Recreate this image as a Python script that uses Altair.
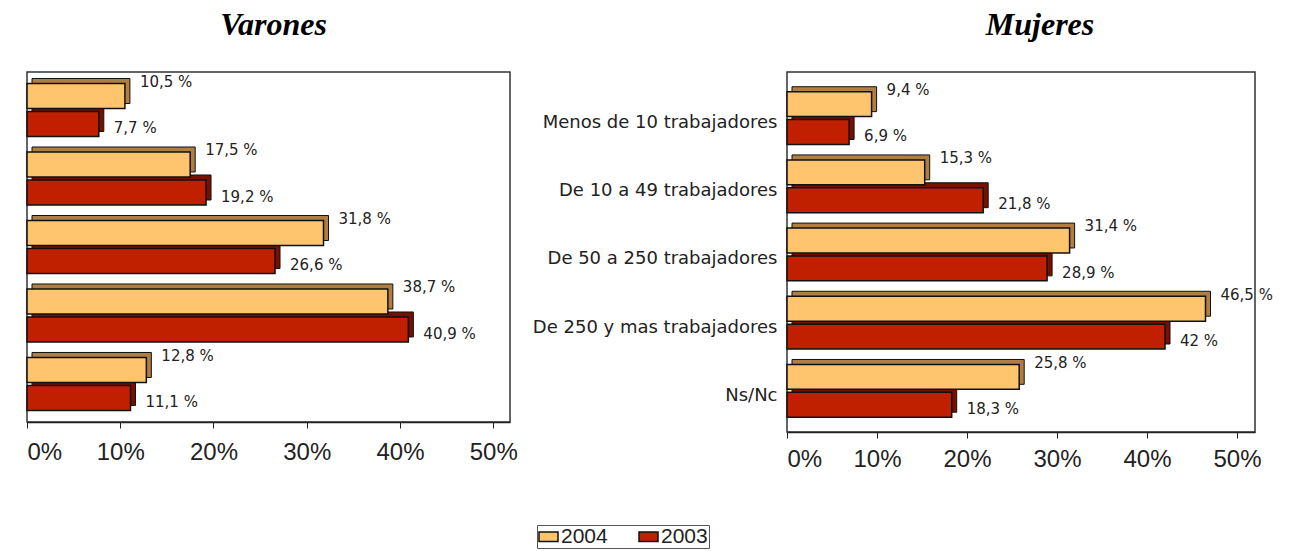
import altair as alt
import pandas as pd

# Company size categories (top to bottom)
categorias = [
    "Menos de 10 trabajadores",
    "De 10 a 49 trabajadores",
    "De 50 a 250 trabajadores",
    "De 250 y mas trabajadores",
    "Ns/Nc",
]
anios = ["2004", "2003"]

# Percentages per category
varones_2004 = [10.5, 17.5, 31.8, 38.7, 12.8]
varones_2003 = [7.7, 19.2, 26.6, 40.9, 11.1]
mujeres_2004 = [9.4, 15.3, 31.4, 46.5, 25.8]
mujeres_2003 = [6.9, 21.8, 28.9, 42.0, 18.3]

color_frente = ["#FFC46E", "#C02000"]
color_fondo = ["#B07D42", "#761000"]


def etiqueta(v):
    return f"{v:g}".replace(".", ",") + " %"


def tabla(v2004, v2003):
    filas = []
    for cat, a, b in zip(categorias, v2004, v2003):
        filas.append({"categoria": cat, "anio": "2004", "valor": a, "texto": etiqueta(a)})
        filas.append({"categoria": cat, "anio": "2003", "valor": b, "texto": etiqueta(b)})
    return pd.DataFrame(filas)


def panel(df, titulo, con_etiquetas, ancho, tope_x, alto, relleno_y, alinear_y,
          dx_titulo, sep_etiquetas_x):
    if con_etiquetas:
        eje_y = alt.Axis(
            title=None, domain=False, ticks=False, labelFontSize=18,
            labelFont="DejaVu Sans", labelColor="#222", labelPadding=10,
            labelOffset=5, minExtent=262, maxExtent=262, labelLimit=300,
        )
    else:
        eje_y = None
    escala_y = alt.Scale(paddingInner=0.08, paddingOuter=relleno_y, align=alinear_y)
    eje_x = alt.Axis(
        title=None, values=[0, 10, 20, 30, 40, 50], labelExpr="datum.value + '%'",
        grid=False, labelFontSize=24, labelFont="Liberation Sans",
        labelColor="#222", tickSize=6, tickColor="#222", domainColor="#222",
        domainWidth=1.5, labelPadding=sep_etiquetas_x,
    )
    # the back wall of the frame reaches a little past 50 %
    x = alt.X("valor:Q", scale=alt.Scale(domain=[0, tope_x], nice=False), axis=eje_x)
    y = alt.Y("categoria:N", sort=categorias, axis=eje_y, scale=escala_y)

    # back face of each bar: same band, pushed to the top of the slot and to the right
    fondo = alt.Chart(df).mark_bar(xOffset=5, stroke="#111", strokeWidth=1).encode(
        x=x, y=y,
        yOffset=alt.YOffset("anio:N", sort=anios,
                            scale=alt.Scale(paddingInner=0.107, paddingOuter=0.179, align=0)),
        fill=alt.condition(alt.datum.anio == "2004",
                           alt.value(color_fondo[0]), alt.value(color_fondo[1])),
    )
    desplazamiento = alt.YOffset("anio:N", sort=anios,
                                 scale=alt.Scale(paddingInner=0.107, paddingOuter=0.179, align=0.5))
    frente = alt.Chart(df).mark_bar(stroke="#111", strokeWidth=1.5).encode(
        x=x, y=y, yOffset=desplazamiento,
        color=alt.Color(
            "anio:N",
            scale=alt.Scale(domain=anios, range=color_frente),
            legend=alt.Legend(
                title=None, orient="none", legendX=510, legendY=453,
                direction="horizontal", symbolType="M-1,-0.5H1V0.5H-1Z",
                symbolSize=361, symbolStrokeColor="#111", symbolStrokeWidth=1.5,
                labelFontSize=21, labelFont="Liberation Sans", labelColor="#222",
                labelOffset=2, strokeColor="#555", padding=1, columnPadding=28,
                fillColor="white",
            ),
        ),
    )
    textos = alt.Chart(df).mark_text(
        align="left", baseline="middle", dx=15, dy=-5, fontSize=15,
        font="DejaVu Sans", color="#222",
    ).encode(x=x, y=y, yOffset=desplazamiento, text="texto:N")
    return (
        alt.layer(fondo, frente, textos)
        .resolve_scale(yOffset="independent")
        .properties(
            width=ancho,
            height=alto,
            title=alt.TitleParams(
                titulo, font="Liberation Serif", fontSize=32, fontStyle="italic",
                fontWeight="bold", color="#000", offset=30, dx=dx_titulo,
            ),
        )
    )


izq = panel(tabla(varones_2004, varones_2003), "Varones", False,
            483, 51.8, 350, 0.095, 0.5, 5, 12)
der = panel(tabla(mujeres_2004, mujeres_2003), "Mujeres", True,
            468, 52.0, 360, 0.18, 0.6, 19, 9)

chart = (
    alt.hconcat(izq, der, spacing=6)
    .resolve_scale(color="shared")
    .resolve_legend(color="shared")
    .properties(padding={"left": 25, "top": 8, "right": 5, "bottom": 5})
    .configure_view(stroke="#333", strokeWidth=1.5)
)

chart.save("out.html", embed_options={"renderer": "svg", "actions": False})
